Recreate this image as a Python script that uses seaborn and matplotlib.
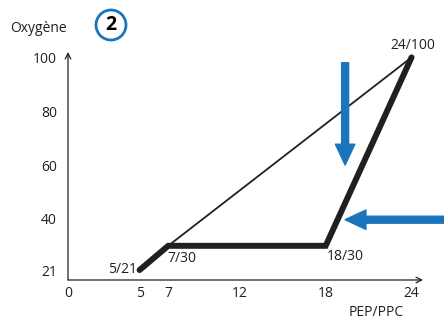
import matplotlib
matplotlib.use("Agg")
import seaborn as sns
from matplotlib import pyplot as plt
from matplotlib.patches import Ellipse

# data
pep_thick = [5, 7, 18, 24]
oxy_thick = [21, 30, 30, 100]
pep_thin = [7, 24]
oxy_thin = [30, 100]
point_labels = ["5/21", "7/30", "18/30", "24/100"]
x_ticks = [0, 5, 7, 12, 18, 24]
y_ticks = [21, 40, 60, 80, 100]

sns.set_style("white")
plt.rcParams["font.family"] = ["Open Sans", "DejaVu Sans"]

dark = "#231f20"
blue = "#1a75bb"
fs = 10

fig = plt.figure(figsize=(4.44, 3.2), dpi=100)
ax = fig.add_axes([68 / 444, 40 / 320, 355 / 444, 228 / 320])

sns.lineplot(x=pep_thin, y=oxy_thin, ax=ax, color=dark, lw=1.3, sort=False)
sns.lineplot(x=pep_thick, y=oxy_thick, ax=ax, color=dark, lw=4.3, sort=False,
             solid_joinstyle="miter")

ax.set_xlim(0, 24.8)
ax.set_ylim(17.3, 102)
ax.set_xticks(x_ticks)
ax.set_yticks(y_ticks)
ax.tick_params(length=0, labelsize=fs, colors=dark)
ax.tick_params(axis="y", pad=8)
ax.tick_params(axis="x", pad=4)
for s in ax.spines.values():
    s.set_visible(False)

# axis arrows
ax.annotate("", xy=(0, 1), xytext=(0, 0), xycoords="axes fraction",
            arrowprops=dict(arrowstyle="->", color=dark, lw=0.9, shrinkA=0, shrinkB=0))
ax.annotate("", xy=(1, 0), xytext=(0, 0), xycoords="axes fraction",
            arrowprops=dict(arrowstyle="->", color=dark, lw=0.9, shrinkA=0, shrinkB=0))

# point labels
ax.text(pep_thick[0] - 0.2, oxy_thick[0] + 0.3, point_labels[0], ha="right", va="center",
        fontsize=fs, color=dark)
ax.text(pep_thick[1] - 0.05, oxy_thick[1] - 2.0, point_labels[1], ha="left", va="top",
        fontsize=fs, color=dark)
ax.text(pep_thick[2] + 0.05, oxy_thick[2] - 1.0, point_labels[2], ha="left", va="top",
        fontsize=fs, color=dark)
ax.text(pep_thick[3] + 0.1, oxy_thick[3] + 1.5, point_labels[3], ha="center", va="bottom",
        fontsize=fs, color=dark)

# blue arrows
style = "simple,head_width=1.4,head_length=1.5,tail_width=0.5"
ax.annotate("", xy=(19.36, 60), xytext=(19.36, 98),
            arrowprops=dict(arrowstyle=style, color=blue, shrinkA=0, shrinkB=0,
                            mutation_scale=10))
ax.annotate("", xy=(19.36, 39.7), xytext=(26.5, 39.7), annotation_clip=False,
            arrowprops=dict(arrowstyle=style, color=blue, shrinkA=0, shrinkB=0,
                            mutation_scale=10))

# labels
fig.text(10 / 444, 1 - 28 / 320, "Oxygène", ha="left", va="center", fontsize=fs, color=dark)
fig.text(349 / 444, 1 - 312 / 320, "PEP/PPC", ha="left", va="center", fontsize=fs, color=dark)

# circled number
circ = Ellipse((111 / 444, 1 - 25 / 320), 30 / 444, 30 / 320, transform=fig.transFigure,
               fill=False, edgecolor=blue, lw=2)
fig.patches.append(circ)
fig.text(111 / 444, 1 - 25 / 320, "2", ha="center", va="center", fontsize=14,
         fontweight="bold", color="black")

fig.savefig("out.png", dpi=100)
